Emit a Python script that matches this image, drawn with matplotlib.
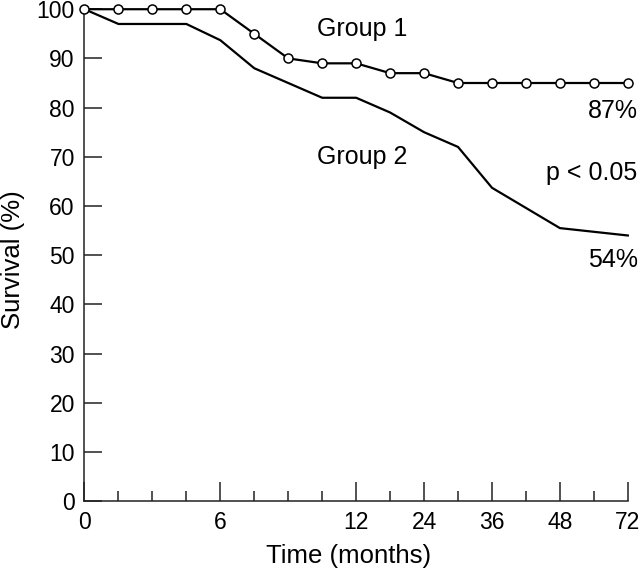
import matplotlib
matplotlib.use("Agg")
import matplotlib.pyplot as plt
import numpy as np

plt.rcParams['font.family'] = ['Liberation Sans', 'DejaVu Sans']

# time axis is stretched: 0-6 and 6-12 get two units, the rest one unit each
axis_knots = [0, 6, 12, 24, 36, 48, 72]
axis_pos = [0, 2, 4, 5, 6, 7, 8]
minor_times = [1.5, 3, 4.5, 7.5, 9, 10.5, 18, 30, 42, 60]

group1_time = [0, 1.5, 3, 4.5, 6, 7.5, 9, 10.5, 12, 18, 24, 30, 36, 42, 48, 60, 72]
group1_surv = [100, 100, 100, 100, 100, 95, 90, 89, 89, 87, 87, 85, 85, 85, 85, 85, 85]

group2_time = [0, 1.5, 4.5, 6, 7.5, 10.5, 12, 18, 24, 30, 36, 48, 72]
group2_surv = [100, 97, 97, 93.7, 88, 82, 82, 79, 75, 72, 63.7, 55.5, 54]


def fwd(t):
    return np.interp(t, axis_knots, axis_pos)


def inv(p):
    return np.interp(p, axis_pos, axis_knots)


fig = plt.figure(figsize=(6.4, 5.76), dpi=100)
ax = fig.add_axes([0.132, 0.13, 0.849, 0.854])
ax.set_xscale('function', functions=(fwd, inv))

ax.plot(group2_time, group2_surv, color='black', lw=1.6, clip_on=False, zorder=3)
ax.plot(group1_time, group1_surv, color='black', lw=1.6, marker='o', ms=6.5,
        mfc='white', mec='black', mew=1.1, clip_on=False, zorder=4)

ax.set_xlim(0, 72)
ax.set_ylim(0, 100)
ax.set_xticks(axis_knots)
ax.set_xticklabels([str(k) for k in axis_knots])
ax.set_xticks(minor_times, minor=True)
ax.set_yticks(range(0, 101, 10))

for side in ['top', 'right']:
    ax.spines[side].set_visible(False)
for side in ['left', 'bottom']:
    ax.spines[side].set_linewidth(1.1)
    ax.spines[side].set_color('#222222')

ax.tick_params(axis='y', which='major', direction='in', length=13, width=1.1,
               labelsize=16.5, pad=7, color='#222222')
ax.tick_params(axis='x', which='major', direction='in', length=14, width=1.1,
               labelsize=16.5, pad=7, color='#222222')
ax.tick_params(axis='x', which='minor', direction='in', length=7, width=1.1,
               color='#222222')

ax.set_xlabel('Time (months)', fontsize=18.5)
ax.xaxis.set_label_coords(0.486, -0.088)
ax.set_ylabel('Survival (%)', fontsize=18.5)
ax.yaxis.set_label_coords(-0.11, 0.49)

ax.text(13, 96, 'Group 1', fontsize=18, ha='center', va='center')
ax.text(13, 70, 'Group 2', fontsize=18, ha='center', va='center')
ytf = ax.get_yaxis_transform()
ax.text(1.018, 79.3, '87%', fontsize=18, ha='right', va='center', transform=ytf)
ax.text(1.018, 66.8, 'p < 0.05', fontsize=18, ha='right', va='center', transform=ytf)
ax.text(1.018, 49, '54%', fontsize=18, ha='right', va='center', transform=ytf)

fig.savefig('out.png', dpi=100)
